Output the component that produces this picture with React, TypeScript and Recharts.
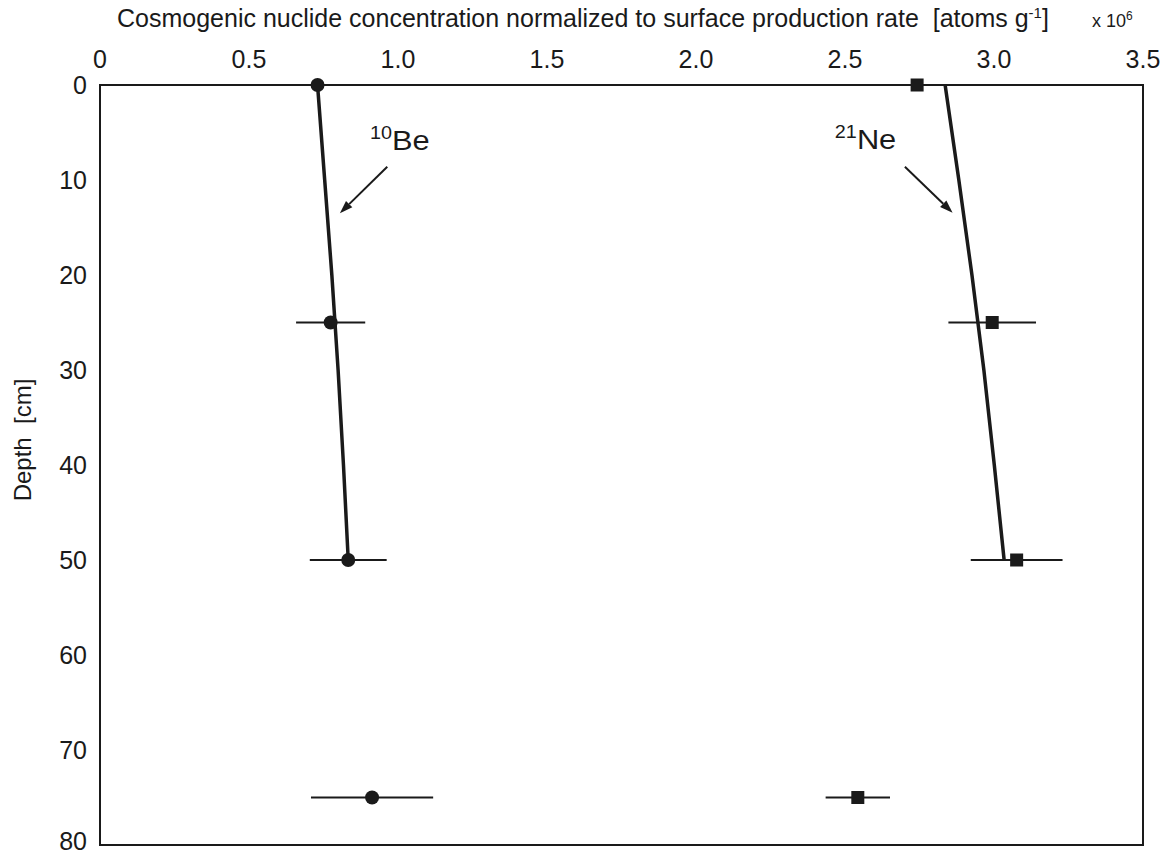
import {
  ComposedChart,
  ErrorBar,
  ReferenceArea,
  ReferenceDot,
  ReferenceLine,
  Scatter,
  XAxis,
  YAxis,
} from "recharts";

// measured samples (depth in cm, concentration x 10^6)
const sampleDepth = [0, 25, 50, 75];
const be10Conc = [0.73, 0.774, 0.833, 0.913];
const be10Err = [0, 0.116, 0.129, 0.205];
const ne21Conc = [2.742, 2.994, 3.076, 2.543];
const ne21Err = [0, 0.147, 0.154, 0.108];

// model depth profiles
const modelDepth = [0, 10, 20, 30, 40, 50];
const be10Model = [0.73, 0.754, 0.778, 0.799, 0.817, 0.833];
const ne21Model = [2.836, 2.882, 2.926, 2.966, 3.001, 3.034];

const concTicks = [0, 0.5, 1.0, 1.5, 2.0, 2.5, 3.0, 3.5];
const depthTicks = [0, 10, 20, 30, 40, 50, 60, 70, 80];

const INK = "#1a1a1a";
const FONT = "Arial, 'Liberation Sans', sans-serif";

const be10Points = sampleDepth.map((d, i) => ({ x: be10Conc[i], depth: d, err: be10Err[i] }));
const ne21Points = sampleDepth.map((d, i) => ({ x: ne21Conc[i], depth: d, err: ne21Err[i] }));
const be10Curve = modelDepth.map((d, i) => ({ x: be10Model[i], depth: d }));
const ne21Curve = modelDepth.map((d, i) => ({ x: ne21Model[i], depth: d }));

const Circle = (p: any) => <circle cx={p.cx} cy={p.cy} r={7} fill={INK} />;
const Square = (p: any) => (
  <rect x={p.cx - 6.5} y={p.cy - 6.5} width={13} height={13} fill={INK} />
);
const NoDot = () => <g />;

const Arrow = (p: any) => {
  const { x1, y1, x2, y2 } = p;
  const a = Math.atan2(y2 - y1, x2 - x1);
  const len = 13;
  const w = 4.5;
  const bx = x2 - len * Math.cos(a);
  const by = y2 - len * Math.sin(a);
  const nx = -Math.sin(a) * w;
  const ny = Math.cos(a) * w;
  return (
    <g>
      <line x1={x1} y1={y1} x2={bx} y2={by} stroke={INK} strokeWidth={2} />
      <polygon
        points={`${x2},${y2} ${bx + nx},${by + ny} ${bx - nx},${by - ny}`}
        fill={INK}
      />
    </g>
  );
};

// the isotope labels in the original are a bit wider than plain Arial
const isotopeLabel = (mass: string, el: string) => (p: any) => (
  <text
    transform={`translate(${p.cx} ${p.cy}) scale(1.1 1)`}
    fill={INK}
    fontFamily={FONT}
    fontSize={28}
  >
    <tspan fontSize={18} dy={-11}>
      {mass}
    </tspan>
    <tspan dy={11}>{el}</tspan>
  </text>
);

const TopTitle = (p: any) => {
  const vb = p.viewBox;
  return (
    <g fill={INK} fontFamily={FONT}>
      <text x={vb.x + 17} y={27} fontSize={25} style={{ whiteSpace: "pre" }}>
        Cosmogenic nuclide concentration normalized to surface production rate  [atoms g
        <tspan fontSize={15} dy={-9}>
          -1
        </tspan>
        <tspan dy={9}>]</tspan>
      </text>
      <text x={vb.x + vb.width - 51} y={27} fontSize={18}>
        x 10
        <tspan fontSize={12} dy={-7}>
          6
        </tspan>
      </text>
    </g>
  );
};

const DepthTitle = () => (
  <text
    x={22}
    y={440}
    transform="rotate(-90 22 440)"
    textAnchor="middle"
    dominantBaseline="central"
    fill={INK}
    fontFamily={FONT}
    fontSize={24}
    style={{ whiteSpace: "pre" }}
  >
    Depth  [cm]
  </text>
);

export default function App() {
  const tickStyle = { fill: INK, fontSize: 25, fontFamily: FONT };
  return (
    <div style={{ position: "absolute", left: 0, top: 0, background: "#fff" }}>
      <ComposedChart
        width={1174}
        height={855}
        margin={{ top: 55, right: 31, bottom: 10, left: 40 }}
      >
        <XAxis
          type="number"
          dataKey="x"
          orientation="top"
          domain={[0, 3.5]}
          ticks={concTicks}
          tickFormatter={(v: number) => (v === 0 ? "0" : v.toFixed(1))}
          axisLine={false}
          tickLine={false}
          tickSize={0}
          tickMargin={17}
          height={30}
          tick={tickStyle}
          label={{ content: TopTitle }}
        />
        <YAxis
          type="number"
          dataKey="depth"
          reversed
          domain={[0, 80]}
          ticks={depthTicks}
          axisLine={false}
          tickLine={false}
          tickSize={0}
          tickMargin={13}
          width={60}
          tick={tickStyle}
          label={{ content: DepthTitle }}
        />
        <ReferenceArea
          x1={0}
          x2={3.5}
          y1={0}
          y2={80}
          fill="none"
          fillOpacity={0}
          stroke={INK}
          strokeWidth={2}
        />
        <Scatter
          data={be10Curve}
          line={{ stroke: INK, strokeWidth: 3.5 }}
          lineType="joint"
          shape={NoDot}
          isAnimationActive={false}
        />
        <Scatter
          data={ne21Curve}
          line={{ stroke: INK, strokeWidth: 3.5 }}
          lineType="joint"
          shape={NoDot}
          isAnimationActive={false}
        />
        <Scatter data={be10Points} shape={Circle} isAnimationActive={false}>
          <ErrorBar dataKey="err" direction="x" width={0} stroke={INK} strokeWidth={1.8} />
        </Scatter>
        <Scatter data={ne21Points} shape={Square} isAnimationActive={false}>
          <ErrorBar dataKey="err" direction="x" width={0} stroke={INK} strokeWidth={1.8} />
        </Scatter>
        <ReferenceLine
          segment={[
            { x: 0.964, y: 8.6 },
            { x: 0.805, y: 13.5 },
          ]}
          shape={Arrow}
        />
        <ReferenceLine
          segment={[
            { x: 2.701, y: 8.6 },
            { x: 2.861, y: 13.45 },
          ]}
          shape={Arrow}
        />
        <ReferenceDot x={0.906} y={6.84} r={0} shape={isotopeLabel("10", "Be")} />
        <ReferenceDot x={2.466} y={6.77} r={0} shape={isotopeLabel("21", "Ne")} />
      </ComposedChart>
    </div>
  );
}
